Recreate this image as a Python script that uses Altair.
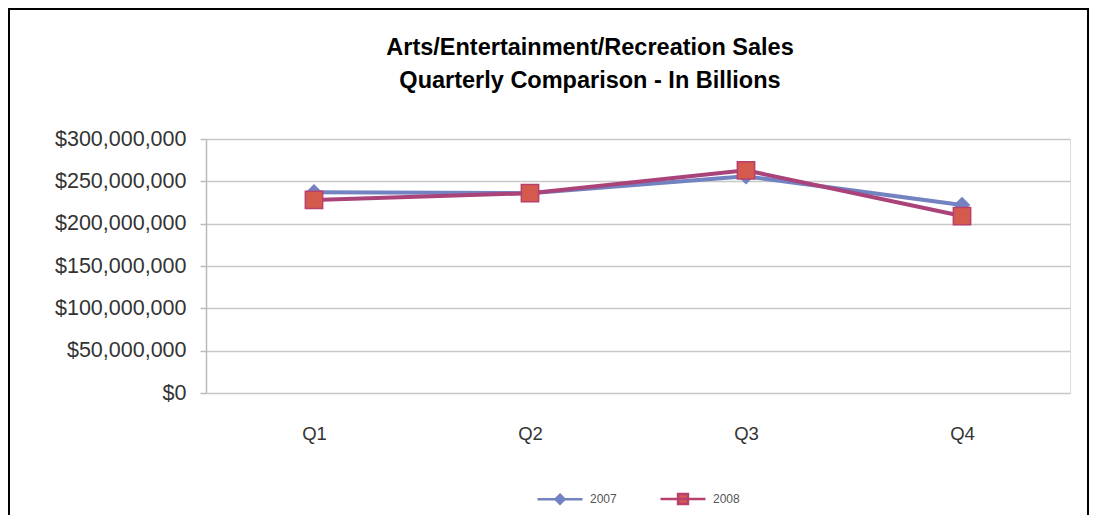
import altair as alt
import pandas as pd

quarters = ["Q1", "Q2", "Q3", "Q4"]
sales_2007 = [237000000, 236000000, 256000000, 222000000]
sales_2008 = [228000000, 236000000, 263000000, 209000000]
years = ["2007", "2008"]
title_lines = ["Arts/Entertainment/Recreation Sales", "Quarterly Comparison - In Billions"]
y_ticks = [0, 50000000, 100000000, 150000000, 200000000, 250000000, 300000000]

rows = []
for q, a, b in zip(quarters, sales_2007, sales_2008):
    rows.append({"Quarter": q, "Year": years[0], "Sales": a})
    rows.append({"Quarter": q, "Year": years[1], "Sales": b})
df = pd.DataFrame(rows)

FONT = "Liberation Sans"
line_colors = ["#7382C0", "#AA4379"]
fill_colors = ["#7382C0", "#D55A4E"]
edge_colors = ["#7382C0", "#B8406F"]

x_enc = alt.X("Quarter:N", sort=quarters, title=None,
              scale=alt.Scale(type="point", padding=0.5),
              axis=alt.Axis(labelAngle=0, domain=False, ticks=False, grid=False,
                            labelFontSize=18.5, labelFont=FONT, labelColor="#333333",
                            labelPadding=31))
y_enc = alt.Y("Sales:Q", title=None,
              scale=alt.Scale(domain=[0, 300000000], nice=False),
              axis=alt.Axis(values=y_ticks, format="$,.0f", labelFontSize=21.5,
                            labelFont=FONT, labelColor="#333333", labelPadding=14,
                            domain=True, domainColor="#BBBBBB", domainWidth=1.5,
                            ticks=True, tickSize=6, tickColor="#BBBBBB", tickWidth=1.5,
                            grid=True, gridColor="#C8C8C8", gridWidth=1.5))

base = alt.Chart(df)
lines = base.mark_line(strokeWidth=4).encode(
    x=x_enc, y=y_enc,
    color=alt.Color("Year:N", scale=alt.Scale(domain=years, range=line_colors), legend=None),
)
points = base.mark_point(filled=True, opacity=1, strokeWidth=1.5).encode(
    x=x_enc, y=y_enc,
    shape=alt.Shape("Year:N", scale=alt.Scale(domain=years, range=["diamond", "square"]), legend=None),
    fill=alt.Fill("Year:N", scale=alt.Scale(domain=years, range=fill_colors), legend=None),
    stroke=alt.Stroke("Year:N", scale=alt.Scale(domain=years, range=edge_colors), legend=None),
    size=alt.Size("Year:N", scale=alt.Scale(domain=years, range=[210, 300]), legend=None),
)

legend_shapes = ["M-1,0H1M0,-0.2L0.2,0L0,0.2L-0.2,0Z", "M-1,0H1M-0.22,-0.22H0.22V0.22H-0.22Z"]
leg = alt.Legend(title=None, orient="none", legendX=330, legendY=336, direction="horizontal",
                 symbolSize=2025, symbolStrokeWidth=2.5, labelFontSize=12, labelFont=FONT,
                 labelColor="#555555", labelOffset=6, columnPadding=38)
legend_layer = base.transform_filter("false").mark_point(filled=True, opacity=1).encode(
    shape=alt.Shape("Year:N", scale=alt.Scale(domain=years, range=legend_shapes), legend=leg),
    fill=alt.Fill("Year:N", scale=alt.Scale(domain=years, range=fill_colors), legend=leg),
    stroke=alt.Stroke("Year:N", scale=alt.Scale(domain=years, range=edge_colors), legend=leg),
)

frame = alt.Chart(pd.DataFrame({"a": [0]})).mark_rect(fill=None, stroke="black", strokeWidth=2).encode(
    x=alt.value(-197), x2=alt.value(882), y=alt.value(-130), y2=alt.value(420)
)

chart = alt.layer(frame, lines, points, legend_layer).resolve_scale(
    shape="independent", fill="independent", stroke="independent"
).properties(
    width=864, height=254,
    title=alt.TitleParams(title_lines, font=FONT, fontSize=23.5, fontWeight="bold",
                          color="#000000", anchor="middle", dx=-48, offset=0, dy=84,
                          lineHeight=33),
    autosize=alt.AutoSizeParams(type="none"),
    padding={"left": 198, "top": 131, "right": 19, "bottom": 122},
).configure_view(stroke=None).configure(background="white")

chart.save("out.html", embed_options={"renderer": "svg", "actions": False})
